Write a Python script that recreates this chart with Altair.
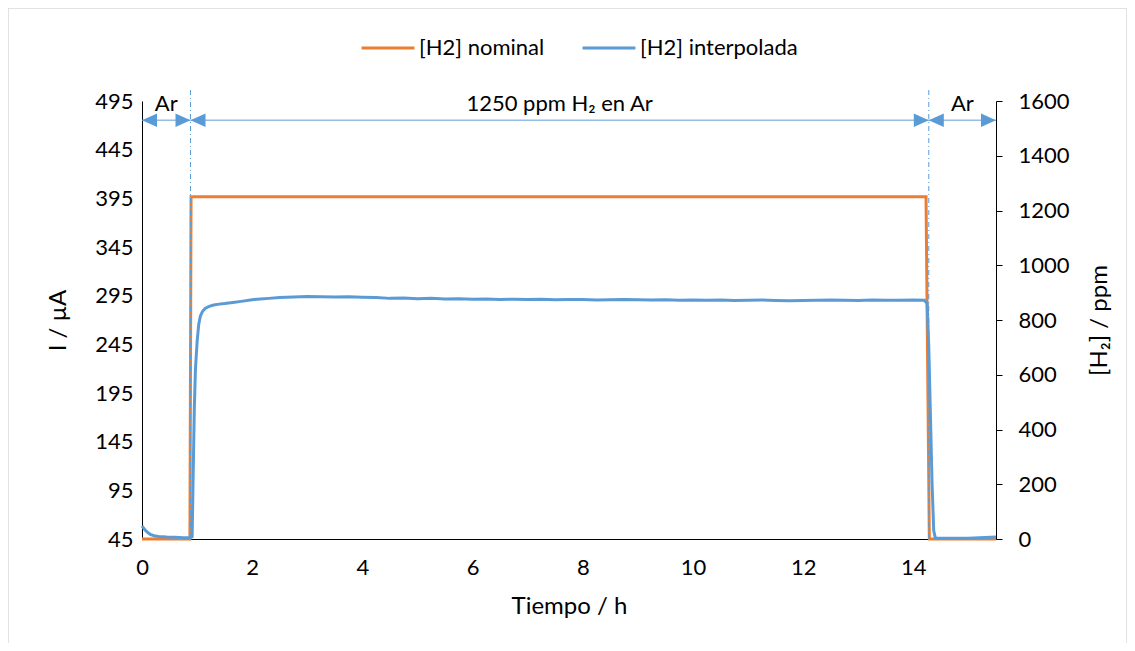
import altair as alt
import pandas as pd

# ---------------- data ----------------
nom_t = [0, 0.87, 0.89, 14.23, 14.29, 15.5]
nom_ppm = [0, 0, 1250, 1250, 0, 0]

int_t = [0.00, 0.03, 0.06, 0.10, 0.15, 0.22, 0.30, 0.45, 0.60, 0.75, 0.87,
         0.91, 0.93, 0.95, 0.97, 1.00, 1.03, 1.06, 1.10, 1.15, 1.22, 1.30,
         1.40, 1.50, 1.65, 1.80, 2.00, 2.15, 2.30, 2.50, 2.75, 3.00, 3.25,
         3.50, 3.75, 4.00, 4.25, 4.50, 4.75, 5.00, 5.25, 5.50, 5.75, 6.00,
         6.25, 6.50, 6.75, 7.00, 7.25, 7.50, 7.75, 8.00, 8.25, 8.50, 8.75,
         9.00, 9.25, 9.50, 9.75, 10.00, 10.25, 10.50, 10.75, 11.00, 11.25,
         11.50, 11.75, 12.00, 12.25, 12.50, 12.75, 13.00, 13.25, 13.50,
         13.75, 14.00, 14.20, 14.25, 14.28, 14.31, 14.34, 14.37, 14.40,
         15.00, 15.50]
int_ppm = [48, 40, 32, 24, 17, 12, 9, 7, 6, 5, 5,
           8, 250, 480, 620, 720, 785, 815, 832, 843, 850, 855,
           858, 860, 864, 868, 874, 877, 879, 882, 884, 886, 885,
           884, 885, 883, 882, 879, 880, 878, 879, 877, 878, 876,
           877, 875, 876, 875, 876, 874, 875, 875, 873, 874, 875,
           874, 873, 874, 872, 873, 872, 873, 871, 872, 873,
           871, 870, 871, 872, 873, 872, 871, 873, 872,
           872, 873, 872, 860, 700, 450, 200, 30, 3,
           3, 7]

series_names = ["[H2] nominal", "[H2] interpolada"]
series_colors = ["#ED7D31", "#5B9BD5"]

left_ticks = list(range(45, 496, 50))
right_ticks = list(range(0, 1601, 200))
x_ticks = list(range(0, 15, 2))

bound_t = [0.88, 14.28]
seg_start = [0, 0.88, 14.28]
seg_end = [0.88, 14.28, 15.5]
seg_label = ["Ar", "1250 ppm H\u2082 en Ar", "Ar"]
seg_mid = [0.44, 7.58, 14.89]
arrow_ppm = 1530
label_ppm = 1562
bound_top = 1645

# ---------------- frames ----------------
df_lines = pd.concat([
    pd.DataFrame({"t": nom_t, "ppm": nom_ppm, "serie": series_names[0]}),
    pd.DataFrame({"t": int_t, "ppm": int_ppm, "serie": series_names[1]}),
])
df_left = pd.DataFrame({"t": [0, 0], "i": [left_ticks[0], left_ticks[-1]]})
df_bounds = pd.DataFrame({"t": bound_t, "y0": [0, 0], "y1": [bound_top, bound_top]})
df_segs = pd.DataFrame({"t0": seg_start, "t1": seg_end, "tm": seg_mid,
                        "label": seg_label, "y": arrow_ppm, "yl": label_ppm})

FONT = "Lato"
BLUE = "#5B9BD5"
W, H = 854, 438
LBL = 22
TTL = 24

xscale = alt.Scale(domain=[0, 15.5], nice=False, zero=False)
yscale = alt.Scale(domain=[0, 1600], nice=False)

x_axis = alt.Axis(values=x_ticks, title="Tiempo / h", grid=False, ticks=False,
                  domainColor="black", labelFontSize=LBL, titleFontSize=TTL,
                  titleFontWeight="normal", labelPadding=18, titlePadding=16,
                  labelColor="black", titleColor="black", labelFont=FONT,
                  titleFont=FONT, format="d", labelFlush=False)

y_axis = alt.Axis(orient="right", values=right_ticks, title="[H\u2082] / ppm",
                  grid=False, ticks=True, tickSize=6, tickColor="black",
                  domainColor="black", labelFontSize=LBL, titleFontSize=TTL,
                  titleFontWeight="normal", labelPadding=16, format="d",
                  titlePadding=42, titleAngle=270, labelColor="black",
                  titleColor="black", labelFont=FONT, titleFont=FONT)

left = alt.Chart(df_left).mark_point(opacity=0).encode(
    x=alt.X("t:Q", scale=xscale, axis=x_axis),
    y=alt.Y("i:Q", scale=alt.Scale(domain=[45, 495], nice=False, zero=False),
            axis=alt.Axis(values=left_ticks, title="I / \u00b5A", grid=False,
                          ticks=False, domainColor="black", labelFontSize=LBL,
                          titleFontSize=TTL, titleFontWeight="normal",
                          labelPadding=9, titlePadding=24, labelColor="black",
                          titleColor="black", labelFont=FONT, titleFont=FONT)),
)

lines = alt.Chart(df_lines).mark_line(strokeWidth=3).encode(
    x=alt.X("t:Q", scale=xscale, axis=x_axis),
    y=alt.Y("ppm:Q", scale=yscale, axis=y_axis),
    color=alt.Color("serie:N",
                    scale=alt.Scale(domain=series_names, range=series_colors),
                    legend=alt.Legend(title=None, orient="none", direction="horizontal",
                                      legendX=218, legendY=-81, symbolType="stroke",
                                      symbolSize=2800, symbolStrokeWidth=3,
                                      labelFontSize=LBL, labelFont=FONT,
                                      labelColor="black", columnPadding=31,
                                      labelOffset=3)),
)

bounds = alt.Chart(df_bounds).mark_rule(color=BLUE, strokeWidth=1,
                                        strokeDash=[5, 3, 1, 3]).encode(
    x=alt.X("t:Q", scale=xscale, axis=x_axis),
    y=alt.Y("y0:Q", scale=yscale, axis=y_axis),
    y2="y1:Q",
)

segs = alt.Chart(df_segs).mark_rule(color=BLUE, strokeWidth=1).encode(
    x=alt.X("t0:Q", scale=xscale, axis=x_axis),
    x2="t1:Q",
    y=alt.Y("y:Q", scale=yscale, axis=y_axis),
)

tips_r = alt.Chart(df_segs).mark_point(
    filled=True, shape="M0,0L-1,-0.45L-1,0.45Z", size=900, color=BLUE, opacity=1
).encode(
    x=alt.X("t1:Q", scale=xscale, axis=x_axis),
    y=alt.Y("y:Q", scale=yscale, axis=y_axis),
)
tips_l = alt.Chart(df_segs).mark_point(
    filled=True, shape="M0,0L1,-0.45L1,0.45Z", size=900, color=BLUE, opacity=1
).encode(
    x=alt.X("t0:Q", scale=xscale, axis=x_axis),
    y=alt.Y("y:Q", scale=yscale, axis=y_axis),
)

labels = alt.Chart(df_segs).mark_text(font=FONT, fontSize=LBL, color="black",
                                      baseline="alphabetic", align="center").encode(
    x=alt.X("tm:Q", scale=xscale, axis=x_axis),
    y=alt.Y("yl:Q", scale=yscale, axis=y_axis),
    text="label:N",
)

frame = alt.Chart(pd.DataFrame({"a": [0]})).mark_rect(
    fill="transparent", stroke="#D9D9D9", strokeWidth=1.5
).encode(
    x=alt.value(-134), x2=alt.value(W + 131),
    y=alt.value(-93), y2=alt.value(H + 120),
)

right = alt.layer(lines, bounds, segs, tips_r, tips_l, labels, frame)

chart = alt.layer(left, right).resolve_scale(y="independent").properties(
    width=W, height=H,
    padding={"left": 134, "top": 93, "right": 131, "bottom": 104},
    autosize=alt.AutoSizeParams(type="none"),
    background="white",
).configure_view(stroke=None)

chart.save("out.html", embed_options={"renderer": "svg", "actions": False})
